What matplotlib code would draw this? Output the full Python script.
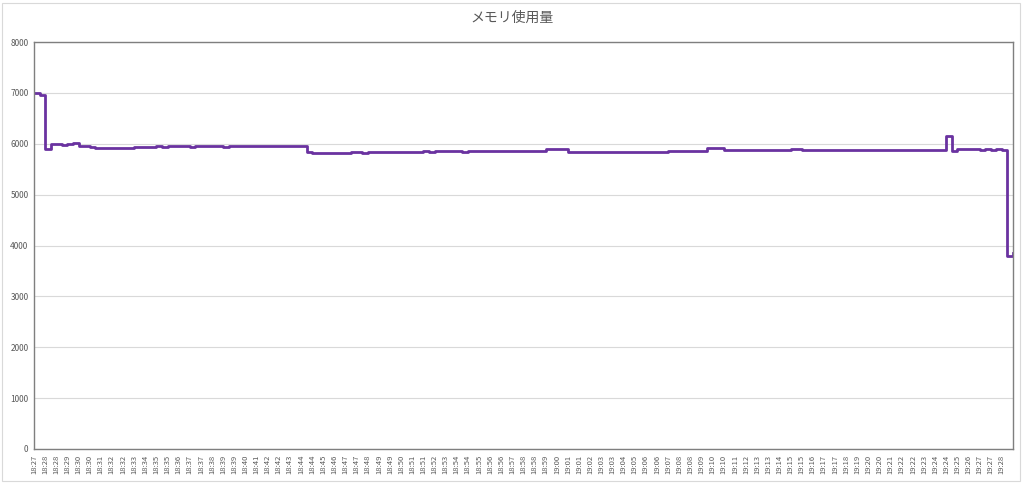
#!/usr/bin/env python3
import matplotlib
matplotlib.use('Agg')
import matplotlib.pyplot as plt
from matplotlib.patches import Rectangle

plt.rcParams['font.family'] = ['Noto Sans CJK JP', 'DejaVu Sans']

TITLE = 'メモリ使用量'

# x-axis labels (one label every second sample)
time_labels = [
    '18:27', '18:28', '18:28', '18:29', '18:30', '18:30', '18:31', '18:32', '18:32', '18:33',
    '18:34', '18:35', '18:35', '18:36', '18:37', '18:37', '18:38', '18:39', '18:39', '18:40',
    '18:41', '18:42', '18:42', '18:43', '18:44', '18:44', '18:45', '18:46', '18:47', '18:47',
    '18:48', '18:49', '18:49', '18:50', '18:51', '18:51', '18:52', '18:53', '18:54', '18:54',
    '18:55', '18:56', '18:56', '18:57', '18:58', '18:58', '18:59', '19:00', '19:01', '19:01',
    '19:02', '19:03', '19:03', '19:04', '19:05', '19:06', '19:06', '19:07', '19:08', '19:08',
    '19:09', '19:10', '19:10', '19:11', '19:12', '19:13', '19:13', '19:14', '19:15', '19:15',
    '19:16', '19:17', '19:17', '19:18', '19:19', '19:20', '19:20', '19:21', '19:22', '19:22',
    '19:23', '19:24', '19:24', '19:25', '19:26', '19:27', '19:27', '19:28',
]
LABEL_STEP = 2

# memory usage samples (MB)
memory_mb = [
    7000, 6950, 5890, 5990, 5990, 5985, 5990, 6010, 5950, 5950,
    5930, 5920, 5915, 5920, 5910, 5920, 5925, 5920, 5930, 5935,
    5940, 5940,
    5950, 5945, 5950, 5955, 5950, 5950, 5945, 5950, 5955, 5950,
    5950, 5950, 5945, 5955, 5950, 5960, 5950, 5950, 5950, 5950,
    5950, 5955, 5950, 5950, 5950, 5960, 5965,
    5830, 5825, 5820, 5815, 5810, 5820, 5810, 5820,
    5830, 5830, 5825, 5830, 5835, 5830, 5830, 5835, 5830, 5840,
    5835, 5840, 5840,
    5850, 5845, 5850, 5850, 5855, 5850, 5850, 5845, 5850, 5855,
    5850, 5850, 5855, 5850, 5850, 5860, 5855, 5850, 5860, 5855,
    5860, 5860,
    5900, 5905, 5900, 5900,
    5840, 5840, 5840, 5845, 5840, 5840, 5845, 5840, 5840, 5840,
    5840, 5840, 5845, 5840, 5840, 5840, 5840, 5845,
    5860, 5855, 5865, 5850, 5860, 5850, 5865,
    5920, 5925, 5920,
    5880, 5880, 5885, 5880, 5880, 5880, 5885, 5880, 5880, 5880,
    5880, 5880, 5890, 5890, 5885, 5880, 5880, 5880, 5885, 5880,
    5880, 5880, 5880, 5885, 5880, 5880, 5880, 5880, 5880, 5880,
    5885, 5880, 5880, 5880, 5880, 5880, 5880, 5880, 5880, 5880,
    6150, 5860,
    5900, 5895, 5890, 5890, 5885, 5890, 5880, 5890, 5885,
    3800, 3850,
]

y_ticks = [0, 1000, 2000, 3000, 4000, 5000, 6000, 7000, 8000]


def plot_memory():
    fig = plt.figure(figsize=(10.24, 4.83), dpi=100)
    ax = fig.add_axes([34 / 1024, 1 - 449 / 483, 979 / 1024, 407 / 483])

    ax.plot(range(len(memory_mb)), memory_mb, color='#6A32A0', linewidth=2.0,
            drawstyle='steps-post')

    ax.set_xlim(0, len(memory_mb) - 1)
    ax.set_ylim(0, 8000)
    ax.set_yticks(y_ticks)
    ax.set_yticklabels([str(v) for v in y_ticks], fontsize=6, color='#595959')
    ax.set_xticks(range(0, len(time_labels) * LABEL_STEP, LABEL_STEP))
    ax.set_xticklabels(time_labels, rotation=90, fontsize=5.5, color='#595959')
    ax.tick_params(length=0, pad=4)

    ax.grid(axis='y', color='#D9D9D9', linewidth=0.8)
    ax.set_axisbelow(True)
    for side in ax.spines.values():
        side.set_color('#7F7F7F')
        side.set_linewidth(1.0)

    fig.text(0.5, 1 - 18 / 483, TITLE, ha='center', va='center',
             fontsize=10, color='#595959')

    # light chart-area border
    fig.patches.append(Rectangle((0.002, 0.004), 0.994, 0.99, transform=fig.transFigure,
                                 fill=False, edgecolor='#D9D9D9', linewidth=0.8))

    fig.savefig('out.png', dpi=100)


def main():
    plot_memory()


if __name__ == "__main__":
    main()
